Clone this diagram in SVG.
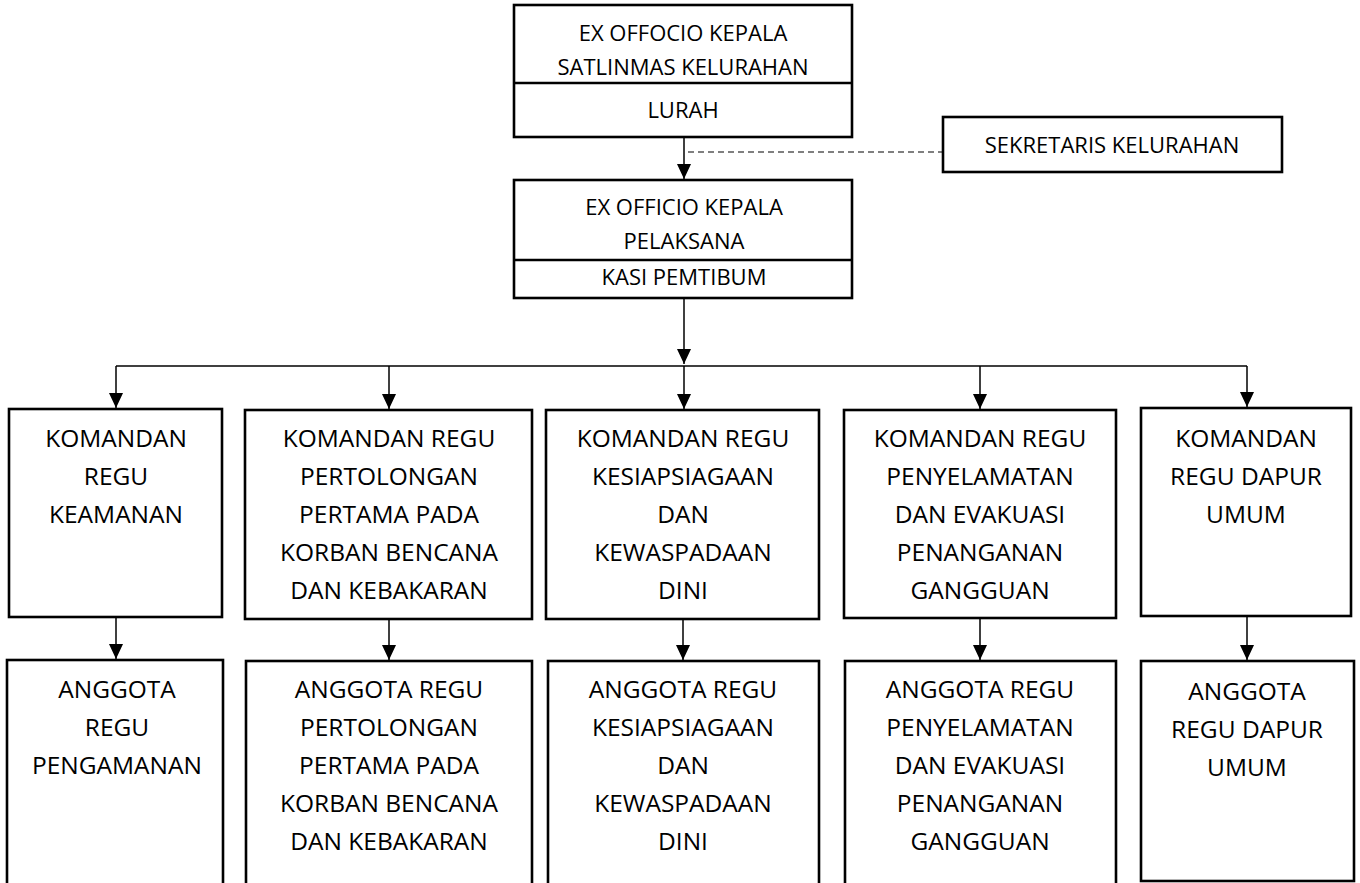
<svg xmlns="http://www.w3.org/2000/svg" width="1360" height="883" viewBox="0 0 1360 883">
<defs>
<style>
.box{fill:#fff;stroke:#000;stroke-width:2.6}
.div{stroke:#000;stroke-width:2.6}
.t{font-family:"Open Sans","Noto Sans",sans-serif;fill:#000;text-anchor:middle}
.ts{font-size:22px}
.tr{font-size:24.5px}
.c{stroke:#000;stroke-width:1.5;fill:none}
.d{stroke:#555;stroke-width:1.5;stroke-dasharray:6 4;fill:none}
</style>
<marker id="ah" markerUnits="userSpaceOnUse" markerWidth="15" markerHeight="14" viewBox="0 0 15 14" refX="15" refY="7" orient="auto">
<path d="M0,0 L15,7 L0,14 z" fill="#000"/>
</marker>
</defs>
<rect width="1360" height="883" fill="#fff"/>

<g id="connectors">
<line class="c" x1="684" y1="137" x2="684" y2="179" marker-end="url(#ah)"/>
<line class="d" x1="688" y1="152" x2="942" y2="152"/>
<line class="c" x1="684" y1="298" x2="684" y2="364" marker-end="url(#ah)"/>
<line class="c" x1="116" y1="366" x2="1247" y2="366"/>
<line class="c" x1="116" y1="366" x2="116" y2="408" marker-end="url(#ah)"/>
<line class="c" x1="389" y1="366" x2="389" y2="409" marker-end="url(#ah)"/>
<line class="c" x1="684" y1="366" x2="684" y2="409" marker-end="url(#ah)"/>
<line class="c" x1="980" y1="366" x2="980" y2="409" marker-end="url(#ah)"/>
<line class="c" x1="1247" y1="366" x2="1247" y2="407" marker-end="url(#ah)"/>
<line class="c" x1="116" y1="617" x2="116" y2="659" marker-end="url(#ah)"/>
<line class="c" x1="389" y1="619" x2="389" y2="660" marker-end="url(#ah)"/>
<line class="c" x1="683" y1="619" x2="683" y2="660" marker-end="url(#ah)"/>
<line class="c" x1="980" y1="618" x2="980" y2="660" marker-end="url(#ah)"/>
<line class="c" x1="1247" y1="616" x2="1247" y2="660" marker-end="url(#ah)"/>
</g>

<g id="kepala-satlinmas">
<rect class="box" x="514" y="5" width="338" height="132"/>
<line class="div" x1="514" y1="83" x2="852" y2="83"/>
<text class="t ts" x="683" y="41">EX OFFOCIO KEPALA</text>
<text class="t ts" x="683" y="75">SATLINMAS KELURAHAN</text>
<text class="t ts" x="683" y="118">LURAH</text>
</g>

<g id="sekretaris">
<rect class="box" x="943" y="117" width="339" height="55"/>
<text class="t ts" x="1112" y="153">SEKRETARIS KELURAHAN</text>
</g>

<g id="kepala-pelaksana">
<rect class="box" x="514" y="180" width="338" height="118"/>
<line class="div" x1="514" y1="260" x2="852" y2="260"/>
<text class="t ts" x="684" y="215">EX OFFICIO KEPALA</text>
<text class="t ts" x="684" y="249">PELAKSANA</text>
<text class="t ts" x="684" y="285">KASI PEMTIBUM</text>
</g>

<g id="komandan-keamanan">
<rect class="box" x="9" y="409" width="213" height="208"/>
<text class="t tr" x="116" y="447">KOMANDAN</text>
<text class="t tr" x="116" y="485">REGU</text>
<text class="t tr" x="116" y="523">KEAMANAN</text>
</g>

<g id="komandan-pertolongan">
<rect class="box" x="245" y="410" width="287" height="209"/>
<text class="t tr" x="389" y="447">KOMANDAN REGU</text>
<text class="t tr" x="389" y="485">PERTOLONGAN</text>
<text class="t tr" x="389" y="523">PERTAMA PADA</text>
<text class="t tr" x="389" y="561">KORBAN BENCANA</text>
<text class="t tr" x="389" y="599">DAN KEBAKARAN</text>
</g>

<g id="komandan-kesiapsiagaan">
<rect class="box" x="546" y="410" width="273" height="209"/>
<text class="t tr" x="683" y="447">KOMANDAN REGU</text>
<text class="t tr" x="683" y="485">KESIAPSIAGAAN</text>
<text class="t tr" x="683" y="523">DAN</text>
<text class="t tr" x="683" y="561">KEWASPADAAN</text>
<text class="t tr" x="683" y="599">DINI</text>
</g>

<g id="komandan-penyelamatan">
<rect class="box" x="844" y="410" width="272" height="208"/>
<text class="t tr" x="980" y="447">KOMANDAN REGU</text>
<text class="t tr" x="980" y="485">PENYELAMATAN</text>
<text class="t tr" x="980" y="523">DAN EVAKUASI</text>
<text class="t tr" x="980" y="561">PENANGANAN</text>
<text class="t tr" x="980" y="599">GANGGUAN</text>
</g>

<g id="komandan-dapur">
<rect class="box" x="1141" y="408" width="210" height="208"/>
<text class="t tr" x="1246" y="447">KOMANDAN</text>
<text class="t tr" x="1246" y="485">REGU DAPUR</text>
<text class="t tr" x="1246" y="523">UMUM</text>
</g>

<g id="anggota-pengamanan">
<rect class="box" x="7" y="660" width="216" height="240"/>
<text class="t tr" x="117" y="698">ANGGOTA</text>
<text class="t tr" x="117" y="736">REGU</text>
<text class="t tr" x="117" y="774">PENGAMANAN</text>
</g>

<g id="anggota-pertolongan">
<rect class="box" x="246" y="661" width="286" height="240"/>
<text class="t tr" x="389" y="698">ANGGOTA REGU</text>
<text class="t tr" x="389" y="736">PERTOLONGAN</text>
<text class="t tr" x="389" y="774">PERTAMA PADA</text>
<text class="t tr" x="389" y="812">KORBAN BENCANA</text>
<text class="t tr" x="389" y="850">DAN KEBAKARAN</text>
</g>

<g id="anggota-kesiapsiagaan">
<rect class="box" x="548" y="661" width="271" height="240"/>
<text class="t tr" x="683" y="698">ANGGOTA REGU</text>
<text class="t tr" x="683" y="736">KESIAPSIAGAAN</text>
<text class="t tr" x="683" y="774">DAN</text>
<text class="t tr" x="683" y="812">KEWASPADAAN</text>
<text class="t tr" x="683" y="850">DINI</text>
</g>

<g id="anggota-penyelamatan">
<rect class="box" x="845" y="661" width="271" height="240"/>
<text class="t tr" x="980" y="698">ANGGOTA REGU</text>
<text class="t tr" x="980" y="736">PENYELAMATAN</text>
<text class="t tr" x="980" y="774">DAN EVAKUASI</text>
<text class="t tr" x="980" y="812">PENANGANAN</text>
<text class="t tr" x="980" y="850">GANGGUAN</text>
</g>

<g id="anggota-dapur">
<rect class="box" x="1141" y="661" width="213" height="220"/>
<text class="t tr" x="1247" y="700">ANGGOTA</text>
<text class="t tr" x="1247" y="738">REGU DAPUR</text>
<text class="t tr" x="1247" y="776">UMUM</text>
</g>
</svg>
